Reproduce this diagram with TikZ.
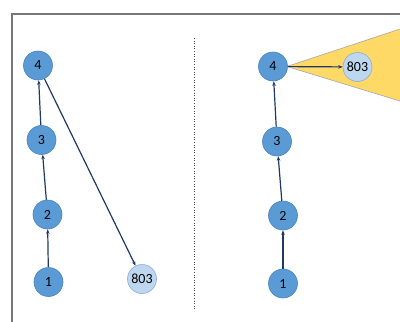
\documentclass[tikz,border=0pt]{standalone}
\usepackage{fontspec}
\setmainfont{Carlito}
\usetikzlibrary{arrows.meta}
\definecolor{nodeblue}{HTML}{5B9BD5}
\definecolor{nodeedge}{HTML}{4A84BF}
\definecolor{lightblue}{HTML}{BDD7EE}
\definecolor{lightedge}{HTML}{8FAADC}
\definecolor{navy}{HTML}{1F3864}
\definecolor{wedgefill}{HTML}{FFD966}
\definecolor{wedgeedge}{HTML}{A6A6A6}
\definecolor{framegray}{HTML}{777777}
\tikzset{
  vert/.style={circle, fill=nodeblue, draw=nodeedge, line width=0.6pt, minimum size=29pt, inner sep=0pt, font=\fontsize{14}{14}\selectfont},
  far/.style={circle, fill=lightblue, draw=lightedge, line width=0.6pt, minimum size=29pt, inner sep=0pt, font=\fontsize{14}{14}\selectfont},
  link/.style={draw=navy, line width=1.2pt, -{Stealth[length=4.5pt,width=3.5pt]}},
}
\begin{document}
\begin{tikzpicture}[x=1pt,y=-1pt]
\useasboundingbox (0,0) rectangle (400,322);
% frame
\draw[framegray, line width=1.5pt] (12,322) -- (12,14) -- (400,14);
% divider
\draw[black!70, line width=0.6pt, dotted] (194,38) -- (194,311);
% left graph
\node[vert] (l4) at (38,65.5) {4};
\node[vert] (l3) at (41.5,140) {3};
\node[vert] (l2) at (47.5,214.5) {2};
\node[vert] (l1) at (48.5,282) {1};
\node[far] (l803) at (142,279) {803};
\draw[link] (l1) -- (l2);
\draw[link] (l2) -- (l3);
\draw[link] (l3) -- (l4);
\draw[link] (l4) -- (l803);
% right graph
\coordinate (apex) at (287,66.5);
\coordinate (wtop) at (400,29);
\coordinate (wbot) at (400,101);
\fill[wedgefill] (apex) -- (wtop) -- (wbot) -- cycle;
\draw[wedgeedge, line width=0.6pt] (wtop) -- (apex) -- (wbot);
\node[vert] (r4) at (273,66.5) {4};
\node[vert] (r3) at (277,141.5) {3};
\node[vert] (r2) at (283,215.5) {2};
\node[vert] (r1) at (283,283.5) {1};
\node[far] (r803) at (357.5,67) {803};
\draw[link] (r1) -- (r2);
\draw[link] (r2) -- (r3);
\draw[link] (r3) -- (r4);
\draw[link] (r4) -- (r803);
\end{tikzpicture}
\end{document}
